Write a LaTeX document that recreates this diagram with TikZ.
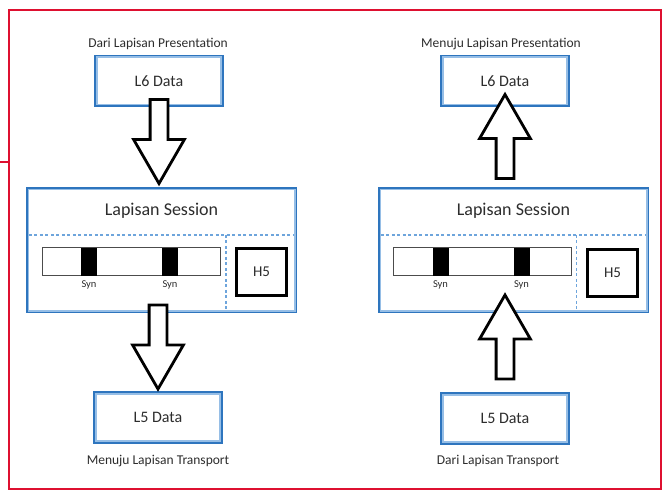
\documentclass[tikz,border=0pt]{standalone}
\usepackage{fontspec}
\setmainfont{Carlito}
\usetikzlibrary{shapes.arrows,calc}
\definecolor{boxblue}{RGB}{46,117,190}
\definecolor{innerblue}{RGB}{150,190,230}
\definecolor{dashblue}{RGB}{110,165,220}
\definecolor{framered}{RGB}{222,16,48}
\definecolor{txtgray}{RGB}{45,45,45}
\tikzset{
  bluebox/.style={draw=boxblue, line width=3.2pt, fill=white, inner sep=0pt, text=txtgray},
  databox/.style={bluebox, minimum width=126pt, minimum height=49pt,
    font=\fontsize{16}{18}\selectfont},
  sessbox/.style={bluebox, minimum width=268pt, minimum height=123pt},
  innerline/.style={draw=innerblue, line width=1.6pt},
  dashline/.style={draw=dashblue, line width=1.4pt, dash pattern=on 3pt off 2.5pt},
  barbox/.style={draw=black!70, line width=1.2pt, fill=white, minimum width=178pt,
    minimum height=28pt, inner sep=0pt},
  synmark/.style={fill=black, minimum width=16pt, minimum height=28pt, inner sep=0pt},
  synlabel/.style={font=\fontsize{10.5}{12}\selectfont, text=txtgray},
  hbox/.style={draw=black, line width=3pt, fill=white, minimum width=50pt,
    minimum height=47pt, inner sep=0pt, font=\fontsize{15}{17}\selectfont, text=txtgray},
  layerlabel/.style={font=\fontsize{13.5}{15}\selectfont, text=txtgray},
  blockarrow/.style={single arrow, draw=black, fill=white, line width=2.8pt,
    inner xsep=0pt, inner ysep=7.5pt, minimum height=84pt,
    single arrow head extend=16.5pt, single arrow tip angle=60},
}
\begin{document}
\begin{tikzpicture}[x=1pt,y=-1pt]
\useasboundingbox[fill=white] (0,0) rectangle (672,500);
\draw[framered, line width=2pt] (9,10) rectangle (661,489);
\draw[framered, line width=2pt] (0,162) -- (9,162);

% kiri: menerima dari presentation
\node[layerlabel] (dpres) at (158,44) {Dari Lapisan Presentation};
\node[databox] (l6a) at (159,81) {L6 Data};
\node[sessbox] (sesa) at (161.5,250) {};
\node[databox] (l5a) at (158,417.5) {L5 Data};
\node[layerlabel] (mtrans) at (158,461) {Menuju Lapisan Transport};

% kanan: menuju presentation
\node[layerlabel] (mpres) at (501,44) {Menuju Lapisan Presentation};
\node[databox] (l6b) at (505,81) {L6 Data};
\node[sessbox] (sesb) at (513.5,250) {};
\node[databox] (l5b) at (505,418.5) {L5 Data};
\node[layerlabel] (dtrans) at (498,461) {Dari Lapisan Transport};

\foreach \n in {l6a,l6b,sesa,sesb,l5a,l5b}
  \draw[innerline] ([shift={(2.4pt,-2.4pt)}]\n.north west) rectangle ([shift={(-2.4pt,2.4pt)}]\n.south east);

\node[font=\fontsize{18}{20}\selectfont, text=txtgray] (titla) at ($(sesa.north)+(0,24)$) {Lapisan Session};
\node[font=\fontsize{18}{20}\selectfont, text=txtgray] (titlb) at ($(sesb.north)+(0,24)$) {Lapisan Session};

% garis putus-putus
\draw[dashline] ($(sesa.north west)+(3,48)$) -- ($(sesa.north east)+(-3,48)$);
\coordinate (cuta) at ($(sesa.north west)+(200,48)$);
\draw[dashline] (cuta) -- ($(cuta |- sesa.south)+(0,-3)$);
\draw[dashline] ($(sesb.north west)+(3,48)$) -- ($(sesb.north east)+(-3,48)$);
\coordinate (cutb) at ($(sesb.north west)+(198.5,48)$);
\draw[dashline] (cutb) -- ($(cutb |- sesb.south)+(0,-3)$);

% bar sinkronisasi
\node[barbox] (bara) at (131.5,261.5) {};
\node[synmark] (syna1) at (89,261.5) {};
\node[synmark] (syna2) at (170,261.5) {};
\node[synlabel] at ($(syna1.south)+(0,9)$) {Syn};
\node[synlabel] at ($(syna2.south)+(0,9)$) {Syn};
\node[hbox] (h5a) at (261.5,272) {H5};

\node[barbox] (barb) at (482.5,261.5) {};
\node[synmark] (synb1) at (440.5,261.5) {};
\node[synmark] (synb2) at (521.5,261.5) {};
\node[synlabel] at ($(synb1.south)+(0,9)$) {Syn};
\node[synlabel] at ($(synb2.south)+(0,9)$) {Syn};
\node[hbox] (h5b) at (612.5,272.5) {H5};

% panah blok
\node[blockarrow, rotate=-90, anchor=tail] (arra1) at ($(l6a.south)+(0,-9)$) {};
\node[blockarrow, rotate=-90, anchor=tail] (arra2) at ($(l5a.north |- sesa.south)+(0,-9.5)$) {};
\node[blockarrow, rotate=90, anchor=tail] (arrb1) at ($(l6b.south |- sesb.north)+(0,-7)$) {};
\node[blockarrow, rotate=90, anchor=tail] (arrb2) at ($(l5b.north)+(0,-12)$) {};
\end{tikzpicture}
\end{document}
